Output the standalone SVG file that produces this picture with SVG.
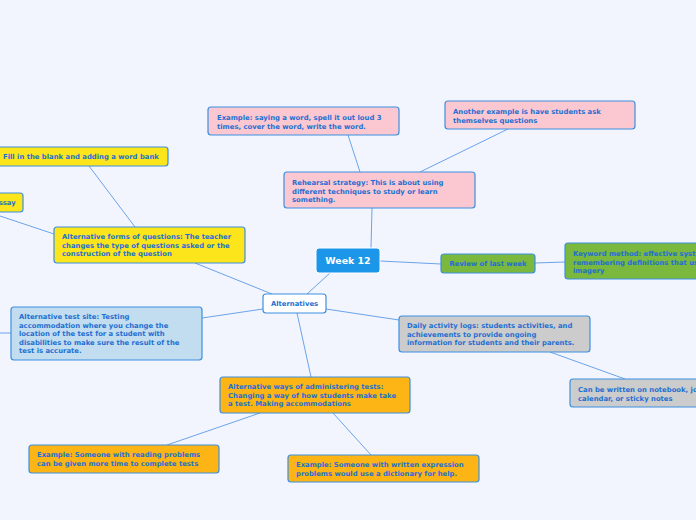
<svg xmlns="http://www.w3.org/2000/svg" width="696" height="520" viewBox="0 0 696 520">
<style>
.n{stroke:#3d8fe0;stroke-width:1.2}
.t{font-family:"DejaVu Sans",Verdana,sans-serif;font-weight:bold;font-size:6.85px;fill:#1f6fd1}
.pink{fill:#fbc8d2}.yel{fill:#fde51b}.blu{fill:#c2dcf0}.gry{fill:#cccccc}.org{fill:#fdb515}.grn{fill:#7ab83e}
.c{stroke:#5b9ae6;stroke-width:0.9;fill:none}
</style>
<rect width="696" height="520" fill="#f2f5fe"/>
<g id="connectors">
<line class="c" x1="371" y1="248" x2="372" y2="208"/>
<line class="c" x1="360" y1="172" x2="348" y2="135"/>
<line class="c" x1="420" y1="172" x2="508" y2="129"/>
<line class="c" x1="380" y1="261" x2="441" y2="264"/>
<line class="c" x1="535" y1="263" x2="565" y2="262"/>
<line class="c" x1="330" y1="273" x2="307" y2="294"/>
<line class="c" x1="272" y1="294" x2="195" y2="263"/>
<line class="c" x1="135" y1="227" x2="89" y2="166"/>
<line class="c" x1="54" y1="234" x2="0" y2="216"/>
<line class="c" x1="263" y1="309" x2="202" y2="318"/>
<line class="c" x1="11" y1="333" x2="0" y2="333"/>
<line class="c" x1="326" y1="309" x2="399" y2="320"/>
<line class="c" x1="550" y1="352" x2="625" y2="379"/>
<line class="c" x1="297" y1="313" x2="311" y2="377"/>
<line class="c" x1="260" y1="413" x2="167" y2="445"/>
<line class="c" x1="333" y1="413" x2="371" y2="455"/>
</g>
<g id="n-example-saying"><rect class="n pink" x="208" y="107" width="191" height="28" rx="3"/><text class="t" x="217" y="120">Example: saying a word, spell it out loud 3</text><text class="t" x="217" y="128.5">times, cover the word, write the word.</text></g>
<g id="n-another-example"><rect class="n pink" x="445" y="101" width="190" height="28" rx="3"/><text class="t" x="453" y="114">Another example is have students ask</text><text class="t" x="453" y="122.5">themselves questions</text></g>
<g id="n-rehearsal"><rect class="n pink" x="284" y="172" width="191" height="36" rx="3"/><text class="t" x="292" y="185">Rehearsal strategy: This is about using</text><text class="t" x="292" y="193.5">different techniques to study or learn</text><text class="t" x="292" y="202">something.</text></g>
<g id="n-fill-blank"><rect class="n yel" x="-10" y="147" width="178" height="19" rx="3"/><text class="t" x="3" y="159">Fill in the blank and adding a word bank</text></g>
<g id="n-essay"><rect class="n yel" x="-20" y="193" width="43" height="19" rx="3"/><text class="t" x="-6" y="205">Essay</text></g>
<g id="n-alt-forms"><rect class="n yel" x="54" y="227" width="191" height="36" rx="3"/><text class="t" x="62" y="239">Alternative forms of questions: The teacher</text><text class="t" x="62" y="247.5">changes the type of questions asked or the</text><text class="t" x="62" y="256">construction of the question</text></g>
<g id="n-alt-site"><rect class="n blu" x="11" y="307" width="191" height="53" rx="3"/><text class="t" x="19" y="319">Alternative test site: Testing</text><text class="t" x="19" y="327.5">accommodation where you change the</text><text class="t" x="19" y="336">location of the test for a student with</text><text class="t" x="19" y="344.5">disabilities to make sure the result of the</text><text class="t" x="19" y="353">test is accurate.</text></g>
<g id="n-week12"><rect x="316" y="248" width="64" height="25" rx="3" fill="#1c96e8" stroke="#ffffff" stroke-width="1"/><text x="348" y="264" text-anchor="middle" font-family="DejaVu Sans,Verdana,sans-serif" font-weight="bold" font-size="9.4" fill="#ffffff">Week 12</text></g>
<g id="n-alternatives"><rect class="n" x="263" y="294" width="63" height="19" rx="3" fill="#ffffff"/><text class="t" x="294.5" y="306" text-anchor="middle">Alternatives</text></g>
<g id="n-review"><rect class="n grn" x="441" y="254" width="94" height="19" rx="3"/><text class="t" x="488" y="266" text-anchor="middle">Review of last week</text></g>
<g id="n-keyword"><rect class="n grn" x="565" y="243" width="150" height="36" rx="3"/><text class="t" x="573" y="256">Keyword method: effective system for</text><text class="t" x="573" y="264.5">remembering definitions that uses</text><text class="t" x="573" y="273">imagery</text></g>
<g id="n-daily"><rect class="n gry" x="399" y="316" width="191" height="36" rx="3"/><text class="t" x="407" y="328">Daily activity logs: students activities, and</text><text class="t" x="407" y="336.5">achievements to provide ongoing</text><text class="t" x="407" y="345">information for students and their parents.</text></g>
<g id="n-can-be-written"><rect class="n gry" x="570" y="379" width="150" height="28" rx="3"/><text class="t" x="578" y="392">Can be written on notebook, journal,</text><text class="t" x="578" y="400.5">calendar, or sticky notes</text></g>
<g id="n-alt-ways"><rect class="n org" x="220" y="377" width="190" height="36" rx="3"/><text class="t" x="228" y="389">Alternative ways of administering tests:</text><text class="t" x="228" y="397.5">Changing a way of how students make take</text><text class="t" x="228" y="406">a test. Making accommodations</text></g>
<g id="n-example-reading"><rect class="n org" x="29" y="445" width="190" height="28" rx="3"/><text class="t" x="37" y="457">Example: Someone with reading problems</text><text class="t" x="37" y="465.5">can be given more time to complete tests</text></g>
<g id="n-example-written"><rect class="n org" x="288" y="455" width="191" height="27" rx="3"/><text class="t" x="296" y="467">Example: Someone with written expression</text><text class="t" x="296" y="475.5">problems would use a dictionary for help.</text></g>
</svg>
